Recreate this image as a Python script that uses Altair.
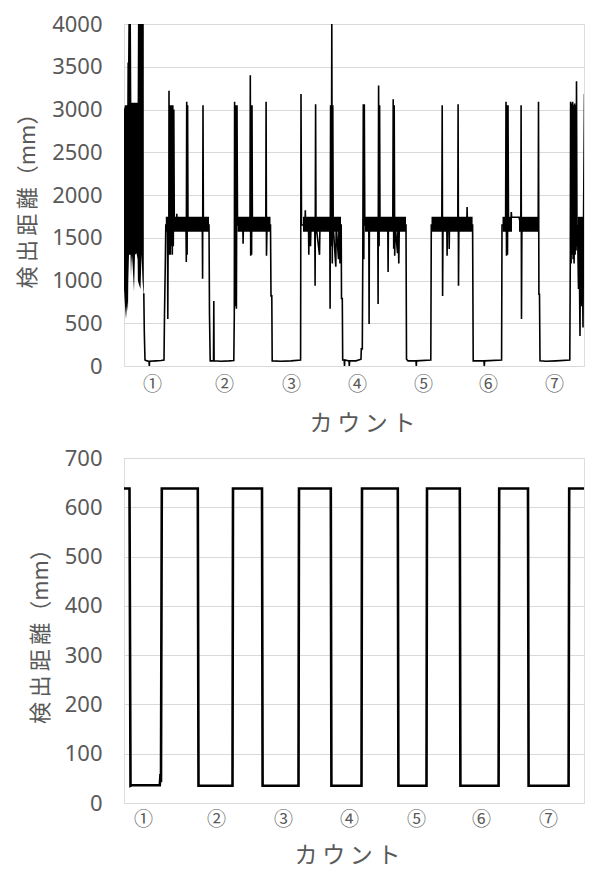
import altair as alt
import pandas as pd

# ---------------- top panel (raw sensor) ----------------
# main trace: sample index / detected distance (mm)
top_x = [1428, 1433, 1440, 1460, 1480, 1483, 1486, 1550, 1600, 1630, 1635, 1643, 1648,
         1665, 1668, 1672, 1678, 1680, 1684, 1688, 1693, 1698, 1703, 1708, 1713, 1718, 1723, 1728, 1733,
         1755, 1758, 1762, 1850, 1853, 1857, 1861, 1866, 1870,
         2013, 2016, 2020, 2024, 2080, 2085, 2092, 2125, 2128, 2131, 2200, 2280,
         2328, 2333, 2336, 2342, 2348, 2354, 2360, 2365,
         2418, 2421, 2424, 2490, 2493, 2497, 2502, 2506, 2510, 2514,
         2648, 2651, 2655, 2660, 2695, 2700, 2708, 2712, 2800, 2900,
         2996, 3000, 3005, 3040, 3043, 3046, 3075, 3078, 3081, 3095, 3100,
         3138, 3141, 3146, 3150, 3185, 3190,
         3288, 3291, 3296, 3303, 3308, 3313, 3318, 3322, 3348, 3352, 3375, 3380, 3390, 3395,
         3402, 3405, 3413, 3417, 3432, 3435, 3438, 3480, 3483, 3486, 3550,
         3600, 3603, 3613, 3618, 3623, 3628, 3633, 3638,
         3678, 3681, 3684, 3768, 3771, 3776, 3781, 3786, 3790,
         3868, 3871, 3874, 3918, 3922, 3927, 3932, 3937, 3942, 3965, 3970, 3978, 3983,
         4050, 4055, 4070, 4150, 4153, 4156, 4298, 4303,
         4408, 4412, 4416, 4420, 4458, 4461, 4464, 4479, 4482, 4485,
         4568, 4571, 4575, 4579, 4658, 4661, 4664, 4716, 4722, 4830, 4833, 4836, 5006, 5010,
         5046, 5050, 5055, 5060, 5065, 5070, 5075, 5100, 5103, 5106, 5180,
         5198, 5201, 5205, 5209, 5372, 5375, 5379, 5385, 5390, 5450, 5550,
         5688, 5693, 5696, 5701, 5706, 5711, 5716, 5721, 5726, 5731, 5736, 5741, 5746, 5751, 5755, 5760,
         5765, 5775, 5780, 5790, 5795, 5805, 5810, 5820, 5825, 5835, 5840, 5850, 5855, 5865, 5870,
         5880, 5885, 5895, 5900, 5910, 5915, 5925, 5930]
top_y = [850, 400, 70, 60, 55, 0, 55, 60, 65, 70, 600, 1200, 1650,
         1650, 550, 1650, 1300, 3220, 1350, 3050, 1300, 3050, 1400, 3050, 1300, 3050, 1400, 3000, 1650,
         1650, 1780, 1650, 1650, 1215, 3090, 1300, 3050, 1650,
         1650, 1020, 3050, 1650, 1650, 600, 60, 60, 760, 60, 55, 60,
         65, 600, 3090, 700, 3050, 670, 3050, 1650,
         1650, 1430, 1650, 1650, 3400, 1290, 3050, 1300, 3050, 1650,
         1650, 3090, 1290, 1650, 1650, 820, 820, 60, 55, 60,
         70, 3180, 1650, 1650, 1820, 1650, 1650, 1300, 1650, 1400, 1650,
         1650, 940, 3060, 1650, 1300, 1650,
         1650, 670, 3050, 1400, 4000, 1200, 3050, 1650, 1160, 1650, 1250, 1650, 1200, 1650,
         1650, 790, 790, 70, 70, 0, 70, 60, 0, 60, 60,
         80, 200, 200, 1300, 3060, 1250, 3060, 1650,
         1650, 490, 1650, 1650, 725, 3280, 1400, 3050, 1650,
         1650, 1100, 1650, 1650, 3120, 1370, 3050, 1290, 1650, 1320, 1650, 1200, 1650,
         1650, 80, 60, 60, 0, 60, 70, 1650,
         1650, 3050, 820, 1650, 1650, 1290, 1650, 1650, 1370, 1650,
         1650, 3060, 940, 1650, 1650, 1860, 1650, 1650, 60, 60, 0, 60, 70, 1650,
         1650, 3090, 1290, 3050, 1300, 3050, 1650, 1700, 1800, 1740, 1740,
         1650, 3050, 550, 1650, 1650, 3090, 840, 840, 60, 55, 60,
         70, 1300, 3090, 1200, 3070, 1300, 3090, 1250, 3050, 1200, 3070, 1300, 3050, 1350, 3330, 1400,
         1650, 900, 1650, 350, 1650, 700, 1650, 450, 1650, 3180, 1400, 600, 1650, 4000, 1500,
         400, 1650, 500, 1650, 800, 1650, 450, 1650]

# dense oscillation at the start (envelope of the signal)
start_x = [1230, 1240, 1250, 1262, 1264, 1270, 1273, 1280, 1295, 1300, 1304, 1310, 1320,
           1330, 1340, 1355, 1366, 1369, 1380, 1395, 1405, 1415, 1425, 1428]
start_lo = [900, 700, 550, 750, 700, 640, 1000, 1300, 1300, 1050, 1200, 1300, 1100,
            870, 1300, 1320, 1250, 1000, 950, 900, 1300, 1000, 850, 850]
start_hi = [3000, 3050, 3050, 3050, 3550, 3550, 4000, 4000, 4000, 4000, 3080, 3080, 3080,
            3080, 3080, 3080, 3080, 4000, 4000, 4000, 4000, 4000, 4000, 4000]

# plateau noise bands (start / end index, low / high mm)
band_start = [1648, 2365, 3020, 3640, 4305, 5015, 5180, 5765]
band_end = [2080, 2695, 3400, 4050, 4716, 5110, 5372, 5930]
band_lo = [1570, 1570, 1570, 1570, 1570, 1570, 1570, 1570]
band_hi = [1745, 1745, 1745, 1745, 1745, 1745, 1745, 1745]

top_ticks = [0, 500, 1000, 1500, 2000, 2500, 3000, 3500, 4000]
top_label_pos = [1510, 2230, 2900, 3560, 4220, 4870, 5530]

# ---------------- bottom panel (filtered) ----------------
bot_x = [1210, 1285, 1295, 1305, 1588, 1593, 1600, 1608, 1968, 1975, 2315, 2320, 2610, 2616,
         2975, 2980, 3298, 3304, 3605, 3610, 3968, 3974, 4255, 4260, 4588, 4594,
         4976, 4982, 5270, 5276, 5676, 5682, 5922, 5930]
bot_y = [638, 638, 35, 36, 36, 52, 50, 638, 638, 35, 35, 638, 638, 35,
         35, 638, 638, 35, 35, 638, 638, 35, 35, 638, 638, 35,
         35, 638, 638, 35, 35, 638, 638, 300]
bot_ticks = [0, 100, 200, 300, 400, 500, 600, 700]
bot_label_pos = [1420, 2150, 2820, 3480, 4150, 4800, 5470]

counts = ["①", "②", "③", "④", "⑤", "⑥", "⑦"]

GRAY = "#595959"
CJK = "Noto Sans CJK JP"
YTITLE = "検\u2009出\u2009距\u2009離（mm）"
XTITLE = "カ\u2009ウ\u2009ン\u2009ト"
X_DOMAIN = [1230, 5830]


def label_expr(pos):
    arr = "[" + ",".join("'%s'" % c for c in counts) + "]"
    p = "[" + ",".join(str(v) for v in pos) + "]"
    return "%s[indexof(%s, datum.value)]" % (arr, p)


def xaxis(pos, label_pad, title_pad, title_x):
    return alt.Axis(values=pos, labelExpr=label_expr(pos), grid=False, ticks=False, tickSize=0,
                    domain=False, labelFont=CJK, labelFontSize=19, labelColor=GRAY,
                    labelPadding=label_pad, title=XTITLE, titleFont=CJK, titleFontSize=23,
                    titleFontWeight="normal", titleColor=GRAY, titlePadding=title_pad,
                    titleX=title_x)


def yaxis(vals):
    return alt.Axis(values=vals, format="d", grid=True, gridColor="#d9d9d9", gridWidth=1,
                    ticks=False, tickSize=0, domain=False, labelFont="Noto Sans",
                    labelFontSize=22, labelColor=GRAY, labelPadding=22, title=YTITLE,
                    titleFont=CJK, titleFontSize=22, titleFontWeight="normal",
                    titleColor=GRAY, titlePadding=12)


tx = alt.Scale(domain=X_DOMAIN, nice=False, zero=False)
ty = alt.Scale(domain=[0, 4000], nice=False)
xa_top = xaxis(top_label_pos, 9, 18, 238)
ya_top = yaxis(top_ticks)

df_line = pd.DataFrame({"x": top_x, "y": top_y})
df_start = pd.DataFrame({"x": start_x, "lo": start_lo, "hi": start_hi})
df_band = pd.DataFrame({"x": band_start, "x2": band_end, "lo": band_lo, "hi": band_hi})

bands = alt.Chart(df_band).mark_rect(color="black", clip=True).encode(
    x=alt.X("x:Q", scale=tx, axis=xa_top), x2="x2:Q",
    y=alt.Y("lo:Q", scale=ty, axis=ya_top), y2="hi:Q")
start = alt.Chart(df_start).mark_area(color="black", opacity=1, clip=True).encode(
    x=alt.X("x:Q", scale=tx, axis=xa_top),
    y=alt.Y("lo:Q", scale=ty, axis=ya_top), y2="hi:Q")
line = alt.Chart(df_line).mark_line(color="black", strokeWidth=1.6, clip=True).encode(
    x=alt.X("x:Q", scale=tx, axis=xa_top),
    y=alt.Y("y:Q", scale=ty, axis=ya_top), order="x:Q")
top = alt.layer(bands, start, line).properties(width=460, height=342)

bx = alt.Scale(domain=X_DOMAIN, nice=False, zero=False)
by = alt.Scale(domain=[0, 700], nice=False)
df_bot = pd.DataFrame({"x": bot_x, "y": bot_y})
bottom = alt.Chart(df_bot).mark_line(color="black", strokeWidth=2.6, clip=True).encode(
    x=alt.X("x:Q", scale=bx, axis=xaxis(bot_label_pos, 7, 15, 223)),
    y=alt.Y("y:Q", scale=by, axis=yaxis(bot_ticks)), order="x:Q"
).properties(width=460, height=345)

chart = alt.vconcat(top, bottom, spacing=10).properties(
    padding={"left": 8, "top": 4, "right": 0, "bottom": 0}
).configure_view(stroke="#a6a6a6", strokeWidth=1).configure(background="white")

chart.save("out.html", embed_options={"renderer": "svg", "actions": False})
